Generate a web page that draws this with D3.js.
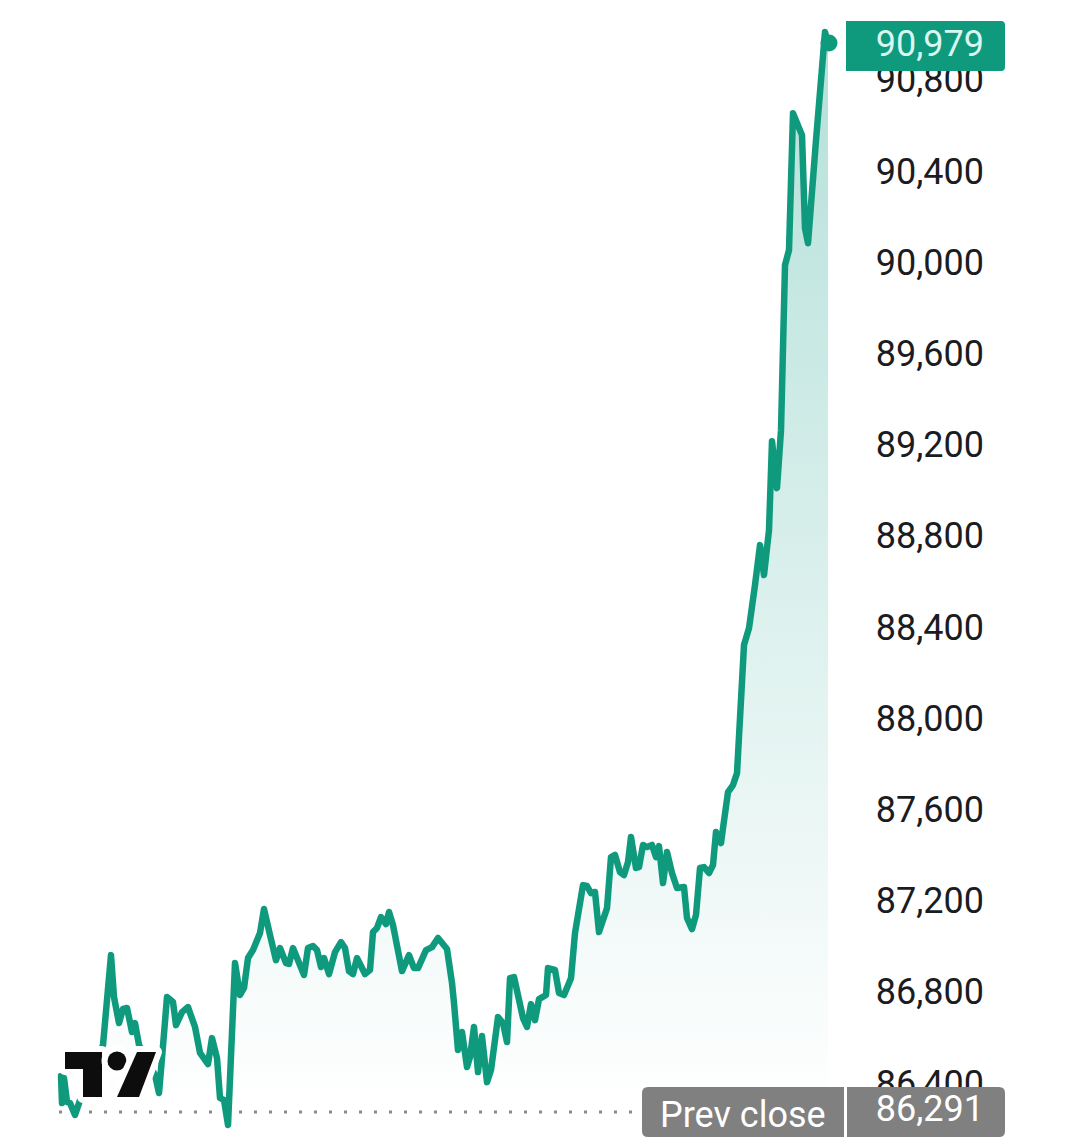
<!DOCTYPE html>
<html>
<head>
    <meta charset="utf-8">
    <title>Price chart</title>
    <style>
        html, body { margin: 0; padding: 0; background: #fff; }
        svg { display: block; }
        text { font-family: Roboto, sans-serif; font-size: 36px; }
        .axis path { display: none; }
        .axis text { fill: #1a1c22; text-anchor: end; font-size: 36px; font-family: Roboto, sans-serif; }
        .line { fill: none; stroke: #0f9a7e; stroke-width: 6.5px; stroke-linejoin: round; stroke-linecap: round; }
        .prev { stroke: #8a8a8a; stroke-width: 3px; stroke-dasharray: 3 12; }
        .logo { fill: #0d0d0d; stroke: #fff; stroke-width: 12px; paint-order: stroke; stroke-linejoin: round; }
    </style>
</head>
<body>
<script src="https://d3js.org/d3.v7.min.js"></script>
<script>
    let width = 1080,
        height = 1144;

    // minutes since the start of the session window
    let minutes = [1, 2, 4, 7, 10, 15, 19, 25, 32, 37, 43, 51, 54, 59, 63, 67, 72, 75, 79, 88, 95, 99, 102, 107, 113, 116, 122, 128, 135, 140, 148, 152, 157, 160, 164, 168, 175, 180, 184, 188, 193, 200, 204, 210, 216, 220, 226, 229, 233, 238, 244, 248, 253, 257, 261, 264, 269, 275, 281, 285, 289, 293, 297, 305, 310, 313, 317, 321, 326, 329, 333, 342, 349, 354, 358, 366, 372, 378, 387, 392, 394, 398, 402, 407, 410, 414, 418, 422, 427, 431, 438, 443, 447, 450, 454, 463, 467, 471, 475, 479, 486, 488, 495, 499, 504, 511, 515, 523, 527, 531, 535, 539, 547, 551, 555, 560, 564, 568, 571, 576, 579, 583, 587, 592, 596, 599, 603, 607, 612, 617, 624, 627, 632, 636, 640, 644, 649, 653, 656, 661, 663, 668, 673, 677, 681, 684, 689, 695, 700, 704, 709, 712, 717, 721, 725, 729, 733, 742, 745, 748, 756, 765, 768];
    let prices = [86449, 86330, 86440, 86335, 86330, 86278, 86330, 86409, 86453, 86519, 86585, 86979, 86795, 86681, 86743, 86747, 86642, 86681, 86585, 86510, 86453, 86374, 86528, 86795, 86773, 86672, 86729, 86751, 86664, 86550, 86501, 86615, 86528, 86352, 86344, 86234, 86944, 86804, 86835, 86966, 87001, 87076, 87181, 87067, 86957, 87010, 86944, 86940, 87010, 86957, 86892, 87010, 87019, 87001, 86927, 86966, 86896, 86992, 87036, 87010, 86909, 86896, 86966, 86896, 86914, 87080, 87098, 87146, 87115, 87168, 87111, 86909, 86979, 86922, 86922, 87001, 87014, 87054, 87006, 86857, 86769, 86563, 86642, 86488, 86532, 86664, 86466, 86624, 86422, 86475, 86707, 86681, 86598, 86878, 86883, 86703, 86664, 86764, 86694, 86786, 86804, 86922, 86914, 86813, 86804, 86878, 87076, 87286, 87282, 87251, 87256, 87080, 87185, 87409, 87418, 87343, 87330, 87387, 87497, 87361, 87365, 87462, 87453, 87462, 87409, 87457, 87295, 87431, 87339, 87273, 87278, 87142, 87093, 87155, 87361, 87365, 87339, 87374, 87519, 87470, 87536, 87694, 87725, 87777, 88098, 88339, 88413, 88602, 88777, 88646, 88843, 89233, 89027, 89281, 90005, 90071, 90671, 90575, 90167, 90101, 90553, 91027, 90979];
    let tickValues = [86400, 86800, 87200, 87600, 88000, 88400, 88800, 89200, 89600, 90000, 90400, 90800];
    let prevClose = 86291;
    let lastPrice = 90979;

    let data = minutes.map(function (d, i) { return { t: d, p: prices[i] }; });

    let x = d3.scaleLinear().domain([0, 768]).range([60, 828]),
        y = d3.scaleLinear().domain([prevClose, lastPrice]).range([1112, 43]);

    let svg = d3.select('body').append('svg')
        .attr('width', width)
        .attr('height', height);

    let grad = svg.append('defs').append('linearGradient')
        .attr('id', 'fade')
        .attr('gradientUnits', 'userSpaceOnUse')
        .attr('x1', 0).attr('x2', 0)
        .attr('y1', 43).attr('y2', 1110);
    grad.append('stop').attr('offset', 0).attr('stop-color', '#089981').attr('stop-opacity', 0.3);
    grad.append('stop').attr('offset', 1).attr('stop-color', '#089981').attr('stop-opacity', 0);

    let area = d3.area()
        .x(function (d) { return x(d.t); })
        .y0(1110)
        .y1(function (d) { return y(d.p); });

    let line = d3.line()
        .x(function (d) { return x(d.t); })
        .y(function (d) { return y(d.p); });

    svg.append('path').datum(data).attr('d', area).attr('fill', 'url(#fade)');

    // tick labels sit a few px above their true position in the reference
    svg.append('g')
        .attr('class', 'axis')
        .attr('transform', 'translate(984,-3.5)')
        .call(d3.axisRight(y).tickValues(tickValues).tickSize(0).tickPadding(0).tickFormat(d3.format(',')));

    svg.append('line')
        .attr('class', 'prev')
        .attr('x1', 59).attr('x2', 642)
        .attr('y1', y(prevClose)).attr('y2', y(prevClose));

    svg.append('path').datum(data).attr('class', 'line').attr('d', line);

    svg.append('circle')
        .attr('cx', x(768) + 1)
        .attr('cy', y(lastPrice))
        .attr('r', 8.5)
        .attr('fill', '#0f9a7e');

    // logo
    let logo = svg.append('g').attr('class', 'logo');
    logo.append('path').attr('d', 'M65,1052H102V1097H83V1069H65Z');
    logo.append('circle').attr('cx', 117).attr('cy', 1061).attr('r', 9.5);
    logo.append('path').attr('d', 'M137,1052H156L139,1097H117Z');

    // rect with rounded corners on one side only
    function tag(x0, y0, w, h, r, leftRound, rightRound) {
        let rl = leftRound ? r : 0, rr = rightRound ? r : 0;
        return 'M' + (x0 + rl) + ',' + y0
            + 'H' + (x0 + w - rr)
            + 'Q' + (x0 + w) + ',' + y0 + ' ' + (x0 + w) + ',' + (y0 + rr)
            + 'V' + (y0 + h - rr)
            + 'Q' + (x0 + w) + ',' + (y0 + h) + ' ' + (x0 + w - rr) + ',' + (y0 + h)
            + 'H' + (x0 + rl)
            + 'Q' + x0 + ',' + (y0 + h) + ' ' + x0 + ',' + (y0 + h - rl)
            + 'V' + (y0 + rl)
            + 'Q' + x0 + ',' + y0 + ' ' + (x0 + rl) + ',' + y0 + 'Z';
    }

    svg.append('path').attr('d', tag(846, 21, 159, 50, 4, false, true)).attr('fill', '#0f9a7e');
    svg.append('text')
        .attr('x', 984).attr('y', 56)
        .attr('text-anchor', 'end')
        .attr('fill', '#d8f7f0')
        .text(d3.format(',')(lastPrice));

    svg.append('path').attr('d', tag(642, 1087, 202, 50, 6, true, false)).attr('fill', '#808080');
    svg.append('path').attr('d', tag(847, 1087, 158, 50, 6, false, true)).attr('fill', '#808080');
    svg.append('text')
        .attr('x', 660).attr('y', 1127)
        .attr('fill', '#fff')
        .text('Prev close');
    svg.append('text')
        .attr('x', 984).attr('y', 1121)
        .attr('text-anchor', 'end')
        .attr('fill', '#fff')
        .text(d3.format(',')(prevClose));
</script>
</body>
</html>
